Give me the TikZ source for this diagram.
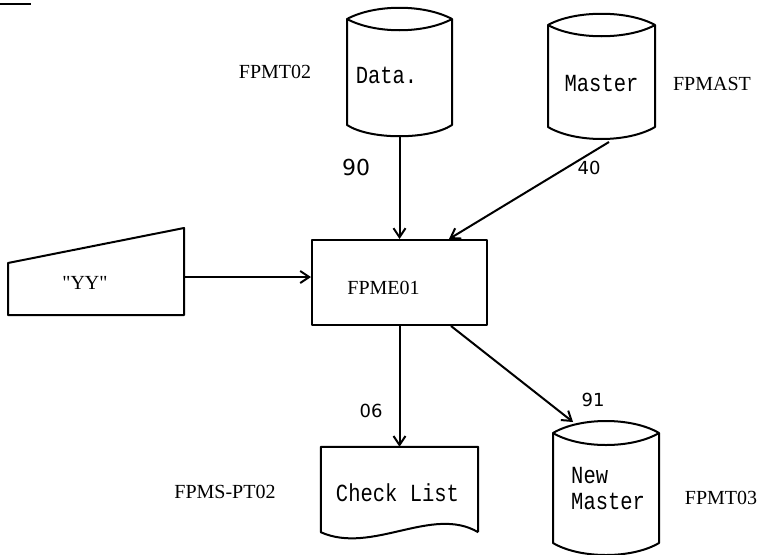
\documentclass[tikz,border=0pt]{standalone}
\usepackage{fontspec}
\setmainfont{Liberation Serif}
\newfontfamily\typefam{Liberation Mono}
\newfontfamily\handfam{DejaVu Sans}
\usetikzlibrary{arrows.meta,calc}
\newcommand\tallt[1]{\scalebox{1}[1.2]{#1}}
\begin{document}
\begin{tikzpicture}[x=1pt,y=-1pt,
  ln/.style={line width=2pt, line join=round},
  arr/.style={ln,-{Straight Barb[length=9pt,width=12pt]}},
  area/.style={draw=none,inner sep=0pt},
  procbox/.style={ln,draw,inner sep=0pt,minimum width=175pt,minimum height=85pt},
  lbl/.style={font=\fontsize{20}{22}\selectfont, inner sep=0pt},
  tw/.style={font=\typefam\fontsize{20.5}{26}\selectfont, inner sep=0pt},
  num/.style={font=\handfam\fontsize{18}{20}\selectfont, inner sep=0pt}]
\useasboundingbox (0,0) rectangle (759,554);
\fill[white] (0,0) rectangle (759,554);

% top-left fragment
\draw[line width=2.2pt] (0,4) -- (31,4);

% Data cylinder
\draw[ln] (347,19) -- (347,125) .. controls (370,140) and (429,140) .. (452,125) -- (452,19);
\draw[ln] (347,19) .. controls (375,4) and (424,4) .. (452,19) .. controls (424,34) and (375,34) .. cycle;
\node[area, minimum width=105pt, minimum height=118pt,
  label={[tw,xshift=-13pt,yshift=3pt]center:\tallt{Data.}}] (data) at (399.5,78) {};
\node[lbl] (lblfpmt02) at (275,72) {FPMT02};

% Master cylinder
\draw[ln] (548,25) -- (548,127) .. controls (575,143) and (628,143) .. (655,127) -- (655,25);
\draw[ln] (548,25) .. controls (575,10) and (628,10) .. (655,25) .. controls (628,40) and (575,40) .. cycle;
\node[area, minimum width=107pt, minimum height=114pt,
  label={[tw,xshift=0pt,yshift=-1pt]center:\tallt{Master}}] (master) at (601.5,82) {};
\node[lbl] (lblfpmast) at (712,84) {FPMAST};

% input "YY"
\draw[ln] (8,263) -- (184,228) -- (184,315) -- (8,315) -- cycle;
\node[lbl] (yy) at (85,283) {\textquotedbl YY\textquotedbl};
\coordinate (yyport) at (184,277);

% process box
\node[procbox, label={[lbl,xshift=-16pt,yshift=-5pt]center:FPME01}] (proc) at (399.5,282.5) {};

% Check List document
\node[area, minimum width=157pt, minimum height=85pt,
  label={[tw,xshift=-2pt,yshift=-3pt]center:\tallt{Check List}}] (chk) at (399.5,489.5) {};
\draw[ln] (chk.south east) -- (chk.north east) -- (chk.north west) -- (chk.south west)
  .. controls (372,555) and (432,505) .. (chk.south east);
\node[lbl] (lblfpms) at (225,492) {FPMS-PT02};

% New Master cylinder
\draw[ln] (553,433) -- (553,543) .. controls (580,559) and (632,559) .. (659,543) -- (659,433);
\draw[ln] (553,433) .. controls (580,417) and (632,417) .. (659,433) .. controls (632,449) and (580,449) .. cycle;
\node[area, minimum width=106pt, minimum height=122pt] (newm) at (606,494) {};
\node[tw, align=left, anchor=north west] (newmtext) at (571,467) {\tallt{New}\\\tallt{Master}};
\node[lbl] (lblfpmt03) at (721,498) {FPMT03};
\coordinate (nmin) at (573,422);

% connectors
\draw[arr] (data.south) -- (data.south |- proc.north);
\coordinate (mout) at (609,142);
\draw[arr] (mout) -- ($(proc.north west)+(138,0)$);
\draw[arr] (yyport) -- (yyport -| proc.west);
\draw[arr] (proc.south) -- (proc.south |- chk.north);
\draw[arr] ($(proc.south west)+(140,0)$) -- (nmin);

% flow numbers
\node[num, font=\handfam\fontsize{22}{24}\selectfont] (n90) at (356,167) {90};
\node[num] (n40) at (589,168) {40};
\node[num] (n06) at (371,411) {06};
\node[num] (n91) at (593,400) {91};
\end{tikzpicture}
\end{document}
